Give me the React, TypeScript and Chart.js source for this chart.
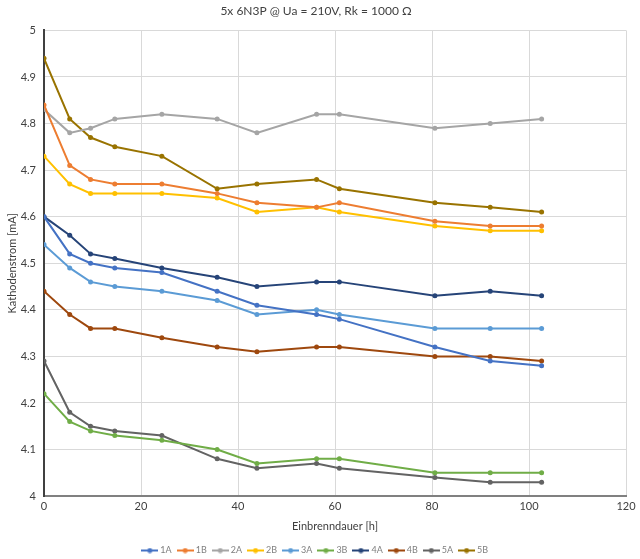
import React, { useEffect, useRef } from "react";
import { Chart, registerables } from "chart.js";

Chart.register(...registerables);

const hours = [0, 5.3, 9.6, 14.6, 24.3, 35.7, 43.9, 56.2, 60.9, 80.6, 92.0, 102.6];

const seriesNames = ["1A", "1B", "2A", "2B", "3A", "3B", "4A", "4B", "5A", "5B"];
const seriesColors = ["#4472C4", "#ED7D31", "#A5A5A5", "#FFC000", "#5B9BD5", "#70AD47", "#264478", "#9E480E", "#636363", "#997300"];

const s1A = [4.60, 4.52, 4.50, 4.49, 4.48, 4.44, 4.41, 4.39, 4.38, 4.32, 4.29, 4.28];
const s1B = [4.84, 4.71, 4.68, 4.67, 4.67, 4.65, 4.63, 4.62, 4.63, 4.59, 4.58, 4.58];
const s2A = [4.83, 4.78, 4.79, 4.81, 4.82, 4.81, 4.78, 4.82, 4.82, 4.79, 4.80, 4.81];
const s2B = [4.73, 4.67, 4.65, 4.65, 4.65, 4.64, 4.61, 4.62, 4.61, 4.58, 4.57, 4.57];
const s3A = [4.54, 4.49, 4.46, 4.45, 4.44, 4.42, 4.39, 4.40, 4.39, 4.36, 4.36, 4.36];
const s3B = [4.22, 4.16, 4.14, 4.13, 4.12, 4.10, 4.07, 4.08, 4.08, 4.05, 4.05, 4.05];
const s4A = [4.60, 4.56, 4.52, 4.51, 4.49, 4.47, 4.45, 4.46, 4.46, 4.43, 4.44, 4.43];
const s4B = [4.44, 4.39, 4.36, 4.36, 4.34, 4.32, 4.31, 4.32, 4.32, 4.30, 4.30, 4.29];
const s5A = [4.29, 4.18, 4.15, 4.14, 4.13, 4.08, 4.06, 4.07, 4.06, 4.04, 4.03, 4.03];
const s5B = [4.94, 4.81, 4.77, 4.75, 4.73, 4.66, 4.67, 4.68, 4.66, 4.63, 4.62, 4.61];

const allSeries = [s1A, s1B, s2A, s2B, s3A, s3B, s4A, s4B, s5A, s5B];

const yTicks = [4, 4.1, 4.2, 4.3, 4.4, 4.5, 4.6, 4.7, 4.8, 4.9, 5];
const xTicks = [0, 20, 40, 60, 80, 100, 120];

const titleText = "5x 6N3P @ Ua = 210V, Rk = 1000 \u03A9";
const xTitle = "Einbrenndauer [h]";
const yTitle = "Kathodenstrom [mA]";

const FONT = "Lato, 'Open Sans', 'DejaVu Sans', sans-serif";

function legendIcon(color: string): HTMLCanvasElement {
  const c = document.createElement("canvas");
  c.width = 17;
  c.height = 6;
  const ctx = c.getContext("2d")!;
  ctx.strokeStyle = color;
  ctx.lineWidth = 2;
  ctx.beginPath();
  ctx.moveTo(0, 3);
  ctx.lineTo(17, 3);
  ctx.stroke();
  ctx.fillStyle = color;
  ctx.beginPath();
  ctx.arc(8.5, 3, 2.5, 0, Math.PI * 2);
  ctx.fill();
  return c;
}

export default function App() {
  const ref = useRef<HTMLCanvasElement | null>(null);

  useEffect(() => {
    if (!ref.current) return;
    const datasets = seriesNames.map((name, i) => ({
      label: name,
      data: hours.map((h, j) => ({ x: h, y: allSeries[i][j] })),
      borderColor: seriesColors[i],
      backgroundColor: seriesColors[i],
      borderWidth: 2,
      pointRadius: 2.5,
      pointHoverRadius: 2.5,
      pointBorderWidth: 0,
      pointStyle: "circle",
      tension: 0,
      showLine: true,
    }));
    const chart = new Chart(ref.current, {
      type: "scatter",
      data: { datasets: datasets as any },
      options: {
        animation: false,
        responsive: false,
        maintainAspectRatio: false,
        layout: { padding: { left: 6, right: 14, top: 0, bottom: -6 } },
        plugins: {
          title: {
            display: true,
            text: titleText,
            color: "#404040",
            font: { family: FONT, size: 12, weight: "normal" },
            padding: { top: 4, bottom: 12 },
          },
          legend: {
            position: "bottom",
            labels: {
              usePointStyle: true,
              pointStyleWidth: 12,
              boxHeight: 6,
              padding: 7.5,
              color: "#7f7f7f",
              font: { family: FONT, size: 9 },
              generateLabels: (ch: any) =>
                ch.data.datasets.map((ds: any, i: number) => ({
                  text: ds.label,
                  fillStyle: ds.borderColor,
                  strokeStyle: ds.borderColor,
                  lineWidth: 0,
                  pointStyle: legendIcon(ds.borderColor),
                  hidden: false,
                  datasetIndex: i,
                  fontColor: "#7f7f7f",
                })),
            },
          },
          tooltip: { enabled: false },
        },
        scales: {
          x: {
            type: "linear",
            min: 0,
            max: 120,
            afterBuildTicks: (s: any) => {
              s.ticks = xTicks.map((v) => ({ value: v }));
            },
            ticks: { color: "#404040", font: { family: FONT, size: 11 }, padding: 4 },
            grid: { color: "#d9d9d9", lineWidth: 1, drawTicks: false },
            border: { color: "#808080", width: 2 },
            title: {
              display: true,
              text: xTitle,
              color: "#404040",
              font: { family: FONT, size: 11 },
              padding: { top: 3, bottom: 5 },
            },
          },
          y: {
            type: "linear",
            min: 4,
            max: 5,
            afterBuildTicks: (s: any) => {
              s.ticks = yTicks.map((v) => ({ value: v }));
            },
            afterFit: (s: any) => {
              s.width = 38;
            },
            ticks: {
              color: "#404040",
              font: { family: FONT, size: 11 },
              padding: 8,
              callback: (v: any) => String(Math.round(Number(v) * 10) / 10),
            },
            grid: { color: "#d9d9d9", lineWidth: 1, drawTicks: false },
            border: { color: "#404040", width: 2 },
            title: {
              display: true,
              text: yTitle,
              color: "#404040",
              font: { family: FONT, size: 11 },
              padding: { top: 0, bottom: 2 },
            },
          },
        },
      },
    } as any);
    return () => chart.destroy();
  }, []);

  return (
    <div style={{ position: "fixed", left: 0, top: 0, width: 640, height: 559, background: "#fff" }}>
      <canvas ref={ref} width={640} height={559} style={{ width: 640, height: 559 }} />
    </div>
  );
}
